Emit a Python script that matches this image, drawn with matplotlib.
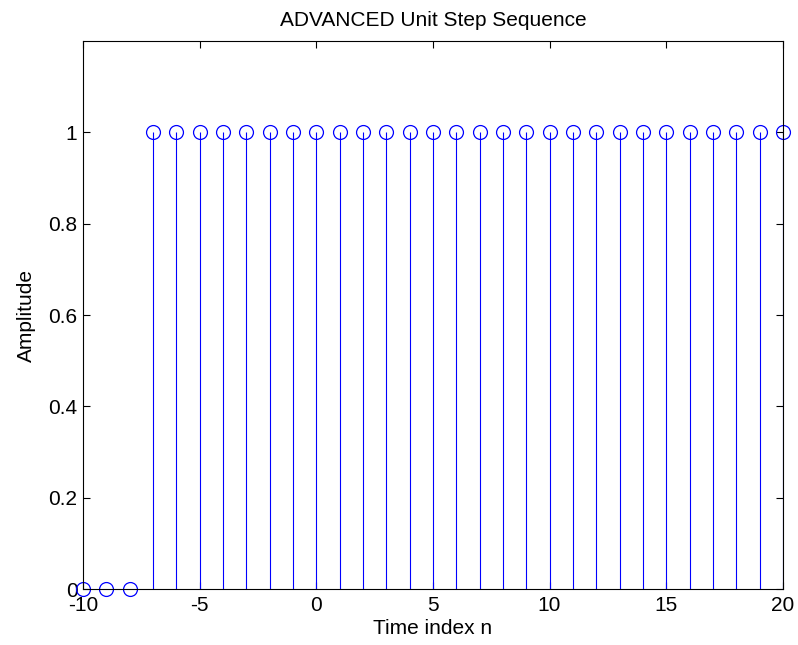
import matplotlib
matplotlib.use("Agg")
import matplotlib.pyplot as plt

n = list(range(-10, 21))
amplitude = [0, 0, 0] + [1] * 28
x_ticks = [-10, -5, 0, 5, 10, 15, 20]
y_ticks = [0, 0.2, 0.4, 0.6, 0.8, 1]
y_tick_labels = ["0", "0.2", "0.4", "0.6", "0.8", "1"]

plt.rcParams['font.family'] = ['Liberation Sans', 'DejaVu Sans']
plt.rcParams['axes.unicode_minus'] = False

fig = plt.figure(figsize=(7.98, 6.45), dpi=100)
ax = fig.add_axes([0.104, 0.0868, 0.877, 0.8496])

markerline, stemlines, baseline = ax.stem(n, amplitude, linefmt='-', markerfmt='o', basefmt=' ')
stemlines.set_color('#0000ff')
stemlines.set_linewidth(0.8)
markerline.set_markerfacecolor('none')
markerline.set_markeredgecolor('#0000ff')
markerline.set_markersize(10)
markerline.set_markeredgewidth(0.9)
markerline.set_clip_on(False)

ax.set_xlim(-10, 20)
ax.set_ylim(0, 1.2)
ax.set_xticks(x_ticks)
ax.set_yticks(y_ticks)
ax.set_yticklabels(y_tick_labels)
ax.tick_params(direction='in', top=True, right=True, labelsize=15, length=5, width=0.8)
ax.tick_params(axis='x', pad=5)
ax.tick_params(axis='y', pad=4)
for s in ax.spines.values():
    s.set_linewidth(0.8)

ax.set_xlabel('Time index n', fontsize=15, labelpad=3)
ax.set_ylabel('Amplitude', fontsize=15, labelpad=9)
ax.set_title('ADVANCED Unit Step Sequence', fontsize=15, pad=11)

fig.savefig('out.png', dpi=100)
